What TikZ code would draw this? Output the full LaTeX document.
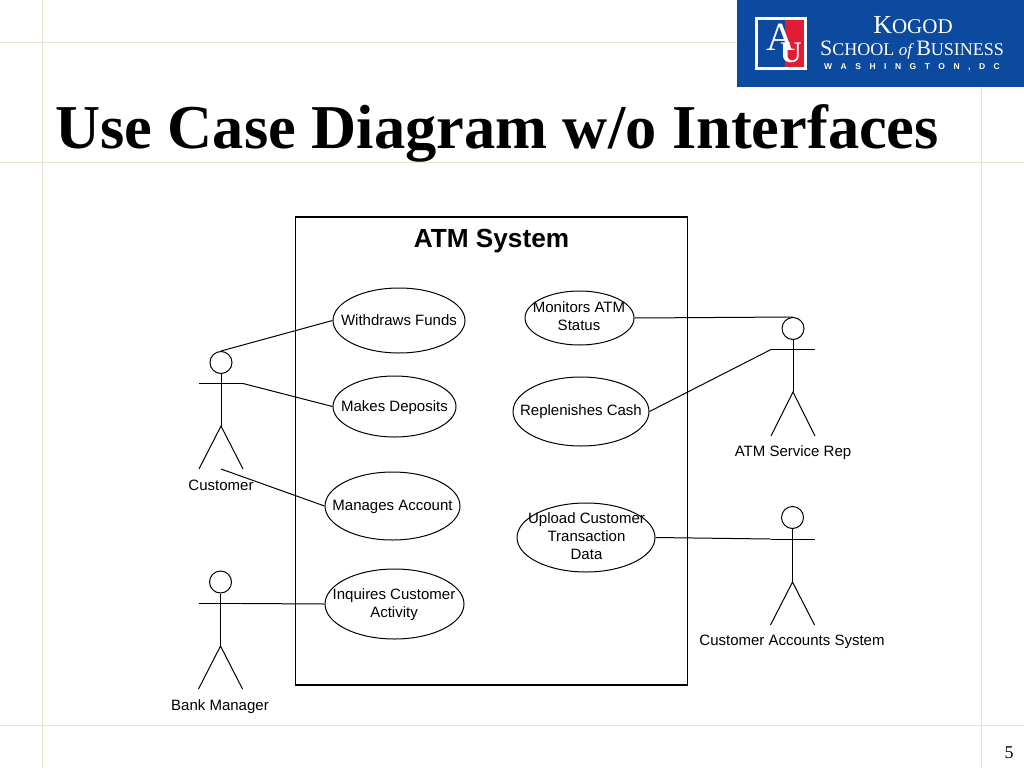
\documentclass[tikz,border=0pt]{standalone}
\usepackage{fontspec}
\setmainfont{Liberation Sans}
\newfontfamily\serifface{Liberation Serif}
\usetikzlibrary{shapes.geometric}
\definecolor{gridc}{RGB}{232,228,208}
\definecolor{logoblue}{RGB}{12,74,160}
\definecolor{logored}{RGB}{226,28,52}
\tikzset{
  usecase/.style={draw=black,ellipse,inner sep=0pt,line width=1pt,align=center},
  lbl/.style={inner sep=0pt,align=center,yshift=-1.2pt,font=\fontsize{15}{18}\selectfont},
  limb/.style={draw=black,line width=1pt},
  gridline/.style={draw=gridc,line width=1pt},
}
\newcommand{\actor}[7]{% name, hx, hy, armY, bodyEnd, footY, half-width
  \node[draw=black,circle,line width=1pt,minimum size=22pt,inner sep=0pt] (#1) at (#2,#3) {};
  \coordinate (#1L) at (#2-#7,#4);
  \coordinate (#1R) at (#2+#7,#4);
  \coordinate (#1H) at (#2,#5);
  \coordinate (#1FL) at (#2-#7,#6);
  \coordinate (#1FR) at (#2+#7,#6);
  \coordinate (#1F) at (#2,#6);
  \draw[limb] (#1.south) -- (#1H);
  \draw[limb] (#1L) -- (#1R);
  \draw[limb] (#1FL) -- (#1H) -- (#1FR);
}
\begin{document}
\begin{tikzpicture}[x=1pt,y=-1pt]
\useasboundingbox (0,0) rectangle (1024,768);
\fill[white] (0,0) rectangle (1024,768);
\draw[gridline] (42.5,0) -- (42.5,768);
\draw[gridline] (981,0) -- (981,768);
\draw[gridline] (0,42.5) -- (1024,42.5);
\draw[gridline] (0,162) -- (1024,162);
\draw[gridline] (0,725.5) -- (1024,725.5);
% logo
\fill[logoblue] (737,0) rectangle (1024,87);
\fill[white] (755,17) rectangle (807,70);
\fill[logoblue] (758,20.5) rectangle (803.5,66.5);
\fill[logored] (785,20.5) rectangle (803.5,66.5);
\node[text=white,inner sep=0pt,font=\serifface\fontsize{40}{40}\selectfont] (logoA) at (781,37.5) {A};
\node[text=white,inner sep=0pt,font=\serifface\bfseries\fontsize{30}{30}\selectfont] (logoU) at (791,53) {U};
\node[text=white,inner sep=0pt,font=\serifface\fontsize{26}{26}\selectfont] (kogod) at (913,25.5) {K\fontsize{21}{21}\selectfont OGOD};
\node[text=white,inner sep=0pt,font=\serifface\fontsize{22}{22}\selectfont] (school) at (912,50) {S\fontsize{18}{18}\selectfont CHOOL \fontsize{17}{17}\selectfont\itshape of \fontsize{22}{22}\selectfont\upshape B\fontsize{18}{18}\selectfont USINESS};
\node[text=white,inner sep=0pt,font=\bfseries\fontsize{8.5}{8.5}\selectfont] (wash) at (912,67) {W\hspace{8.5pt}A\hspace{8.5pt}S\hspace{8.5pt}H\hspace{8.5pt}I\hspace{8.5pt}N\hspace{8.5pt}G\hspace{8.5pt}T\hspace{8.5pt}O\hspace{8.5pt}N\hspace{8.5pt},\hspace{8.5pt}D\hspace{8.5pt}C};
% title
\node[anchor=base west,inner sep=0pt,font=\serifface\bfseries\fontsize{62.4}{62.4}\selectfont] (title) at (55,148) {Use Case Diagram w/o Interfaces};
\node[inner sep=0pt,font=\serifface\fontsize{18}{18}\selectfont] (page) at (1009,753) {5};
% system
\node[draw=black,line width=1.2pt,minimum width=391.5pt,minimum height=468pt,inner sep=0pt] (sys) at (491.5,451) {};
\node[inner sep=0pt,font=\bfseries\fontsize{26.2}{26.2}\selectfont] (systitle) at (491.5,241) {ATM System};
% use cases
\node[usecase,minimum width=132pt,minimum height=65pt] (wf) at (399,320.5) {};
\node[lbl] at (399,319) {Withdraws Funds};
\node[usecase,minimum width=123pt,minimum height=61pt] (md) at (394.5,406.5) {};
\node[lbl] at (394.5,406) {Makes Deposits};
\node[usecase,minimum width=135pt,minimum height=68pt] (ma) at (392.5,506) {};
\node[lbl] at (392.5,505.5) {Manages Account};
\node[usecase,minimum width=139pt,minimum height=70pt] (ic) at (394.5,604) {};
\node[lbl] at (394,603) {Inquires Customer\\Activity};
\node[usecase,minimum width=109pt,minimum height=54pt] (mo) at (579.5,318) {};
\node[lbl] at (579,314.5) {Monitors ATM\\Status};
\node[usecase,minimum width=136pt,minimum height=69pt] (rc) at (581,411.5) {};
\node[lbl] at (581,410.5) {Replenishes Cash};
\node[usecase,minimum width=138pt,minimum height=69pt] (up) at (586,537.5) {};
\node[lbl] at (586.5,534.5) {Upload Customer\\Transaction\\Data};
% actors
\actor{cu}{221}{362.5}{383.5}{426}{469}{22}
\actor{bm}{220.5}{582}{603.5}{646}{689}{22}
\actor{sr}{793}{328.5}{349.5}{392}{436}{22}
\actor{ca}{792.5}{517.5}{539}{582}{625}{22}
\node[lbl] (cul) at (221,484) {Customer};
\node[lbl] (bml) at (220,705) {Bank Manager};
\node[lbl] (srl) at (793,451) {ATM Service Rep};
\node[lbl] (cal) at (792,641) {Customer Accounts System};
% connectors
\draw[limb] (cu.north) -- (wf.west);
\draw[limb] (cuR) -- (md.west);
\draw[limb] (cuF) -- (ma.west);
\draw[limb] (bmR) -- (ic.west);
\draw[limb] (mo.east) -- (sr.north);
\draw[limb] (rc.east) -- (srL);
\draw[limb] (up.east) -- (caL);
\end{tikzpicture}
\end{document}
